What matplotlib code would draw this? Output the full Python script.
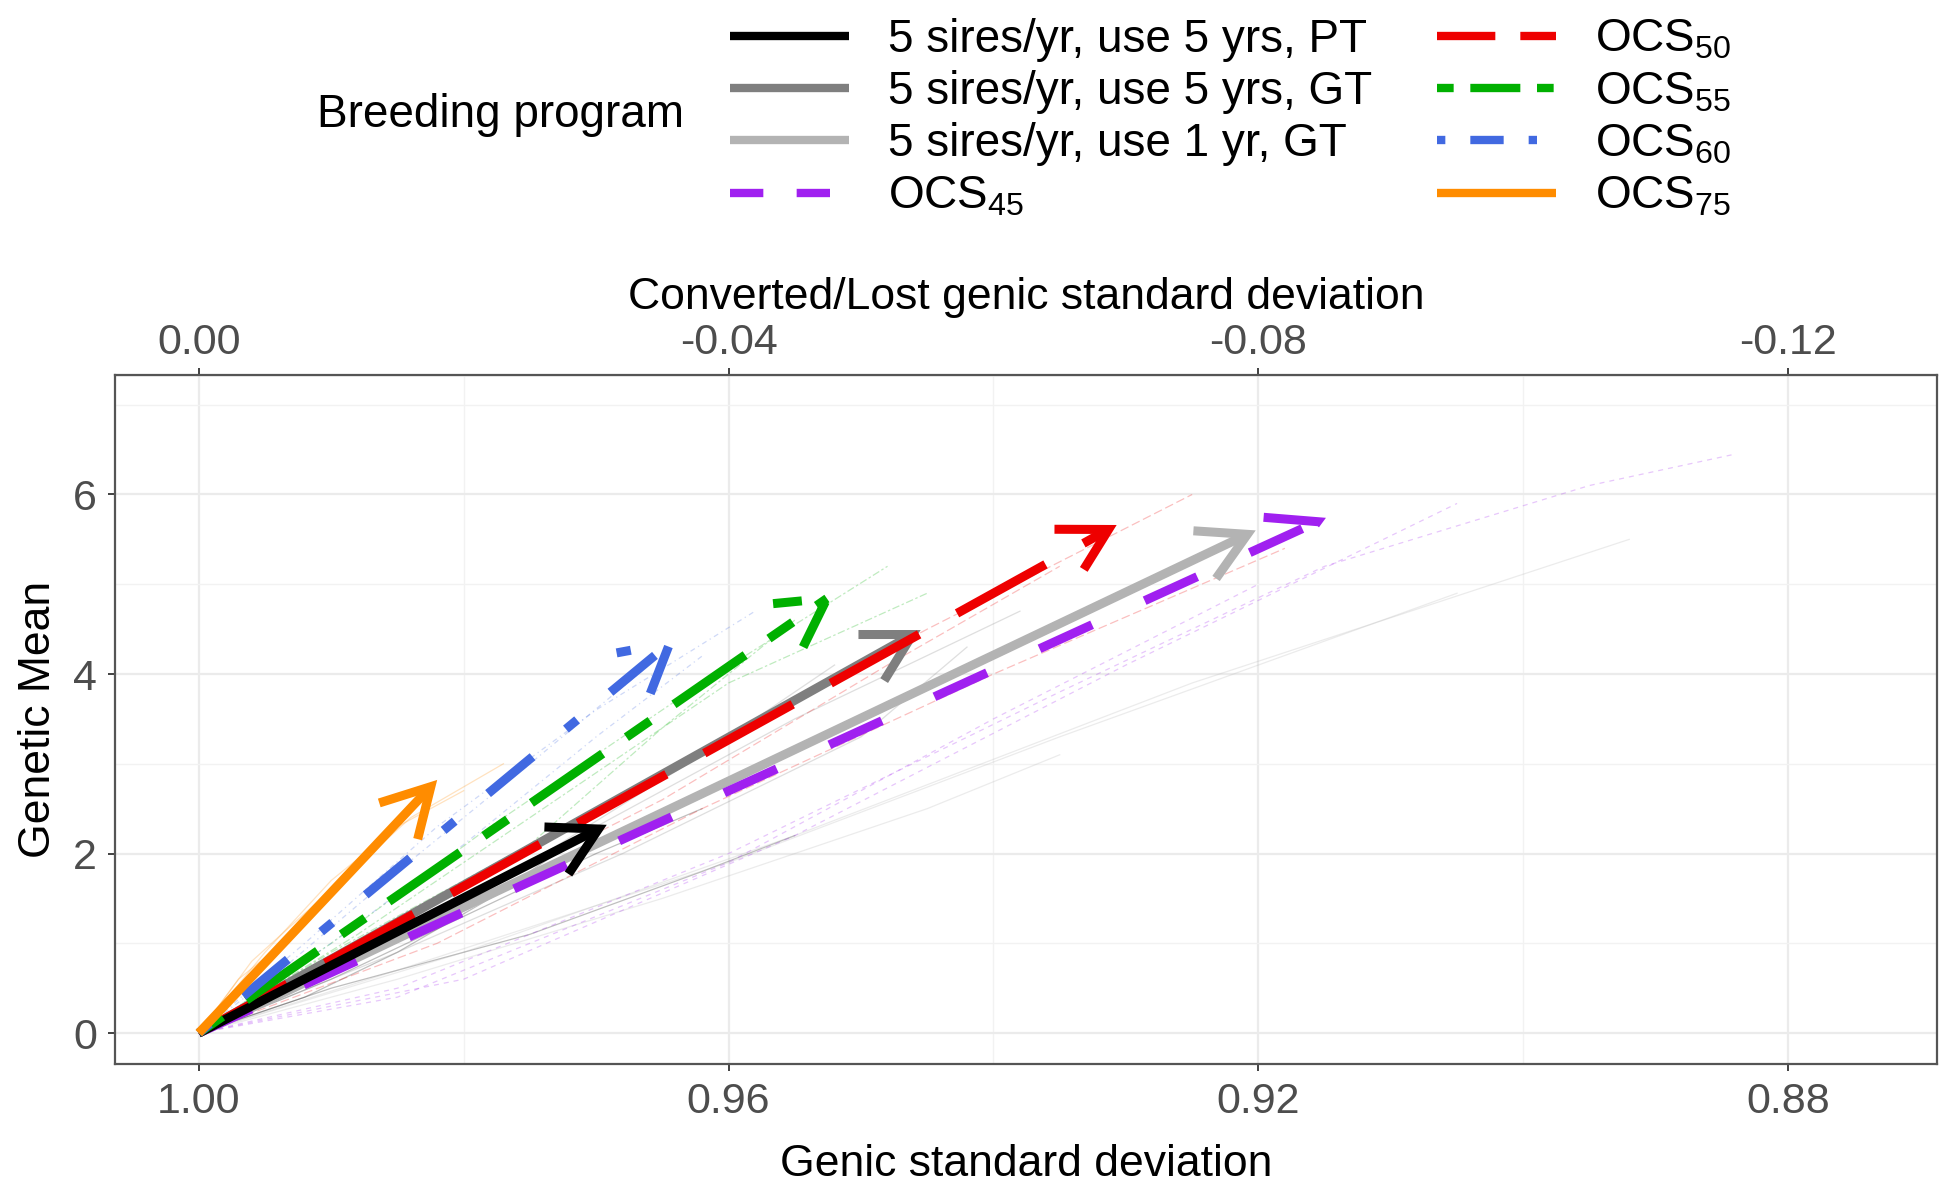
import numpy as np
import matplotlib
matplotlib.use("Agg")
import matplotlib.pyplot as plt
from matplotlib.lines import Line2D

plt.rcParams['font.family'] = ['Liberation Sans', 'DejaVu Sans']
plt.rcParams['mathtext.fontset'] = 'custom'
plt.rcParams['mathtext.rm'] = 'Liberation Sans'
plt.rcParams['mathtext.default'] = 'regular'
plt.rcParams['axes.unicode_minus'] = False

# breeding programs (order as in legend)
programs = ["5 sires/yr, use 5 yrs, PT", "5 sires/yr, use 5 yrs, GT",
            "5 sires/yr, use 1 yr, GT", "OCS$_{45}$", "OCS$_{50}$",
            "OCS$_{55}$", "OCS$_{60}$", "OCS$_{75}$"]
colors = ["#000000", "#7f7f7f", "#b3b3b3", "#a020f0", "#ee0000",
          "#00b000", "#4169e1", "#ff8c00"]
dashes = [None, None, None, (4, 4), (7, 3), (2, 2, 6, 2), (1, 3, 4, 3), None]

# mean arrows: start at (1, 0), end at the final generation
end_sd = [0.9692, 0.9455, 0.9202, 0.9149, 0.9307, 0.952, 0.9639, 0.982]
end_mean = [2.32, 4.49, 5.60, 5.74, 5.66, 4.90, 4.41, 2.82]

# a few of the faint replicate trajectories, read roughly
faint_sd = [
    [[1.0, 0.99, 0.98, 0.97, 0.962], [1.0, 0.992, 0.985, 0.978, 0.973],
     [1.0, 0.99, 0.975, 0.962, 0.955]],
    [[1.0, 0.985, 0.97, 0.955, 0.938], [1.0, 0.988, 0.975, 0.962, 0.952],
     [1.0, 0.985, 0.968, 0.95, 0.942]],
    [[1.0, 0.98, 0.955, 0.925, 0.892], [1.0, 0.985, 0.96, 0.935, 0.905],
     [1.0, 0.985, 0.965, 0.945, 0.935]],
    [[1.0, 0.985, 0.96, 0.935, 0.915, 0.895, 0.884], [1.0, 0.98, 0.955, 0.93, 0.905],
     [1.0, 0.985, 0.96, 0.94, 0.92]],
    [[1.0, 0.985, 0.965, 0.945, 0.925], [1.0, 0.982, 0.962, 0.94, 0.918],
     [1.0, 0.985, 0.965, 0.948, 0.935]],
    [[1.0, 0.99, 0.978, 0.962, 0.948], [1.0, 0.99, 0.975, 0.965, 0.955],
     [1.0, 0.988, 0.975, 0.96, 0.945]],
    [[1.0, 0.992, 0.982, 0.97, 0.958], [1.0, 0.993, 0.985, 0.975, 0.966],
     [1.0, 0.99, 0.98, 0.97, 0.962]],
    [[1.0, 0.996, 0.99, 0.984, 0.977], [1.0, 0.997, 0.992, 0.988, 0.984],
     [1.0, 0.995, 0.99, 0.985, 0.98]],
]
faint_mean = [
    [[0.0, 0.6, 1.3, 2.0, 2.5], [0.0, 0.4, 0.9, 1.5, 2.0],
     [0.0, 0.5, 1.1, 1.8, 2.2]],
    [[0.0, 1.1, 2.3, 3.5, 4.7], [0.0, 0.8, 1.9, 3.1, 4.1],
     [0.0, 0.9, 2.0, 3.3, 4.3]],
    [[0.0, 0.9, 2.2, 3.9, 5.5], [0.0, 0.7, 1.9, 3.3, 4.9],
     [0.0, 0.6, 1.5, 2.5, 3.1]],
    [[0.0, 0.5, 2.0, 3.8, 5.2, 6.1, 6.45], [0.0, 0.6, 2.2, 4.1, 5.9],
     [0.0, 0.4, 1.9, 3.5, 5.0]],
    [[0.0, 1.2, 2.9, 4.5, 6.0], [0.0, 1.0, 2.5, 4.0, 5.4],
     [0.0, 1.1, 2.6, 4.1, 5.2]],
    [[0.0, 1.0, 2.3, 3.9, 5.2], [0.0, 0.9, 2.1, 3.4, 4.6],
     [0.0, 1.1, 2.4, 3.9, 4.9]],
    [[0.0, 1.0, 2.3, 3.6, 4.7], [0.0, 0.8, 1.8, 3.0, 4.1],
     [0.0, 1.0, 2.1, 3.3, 4.2]],
    [[0.0, 0.8, 1.6, 2.4, 3.0], [0.0, 0.6, 1.2, 1.9, 2.5],
     [0.0, 0.9, 1.7, 2.3, 2.7]],
]

x_major = [1.00, 0.96, 0.92, 0.88]
x_major_labels = ["1.00", "0.96", "0.92", "0.88"]
x_minor = [0.98, 0.94, 0.90]
top_labels = ["0.00", "-0.04", "-0.08", "-0.12"]
y_major = [0, 2, 4, 6]
y_minor = [1, 3, 5, 7]

fig = plt.figure(figsize=(19.47, 11.87), dpi=100)
ax = fig.add_axes([0.0591, 0.1036, 0.9358, 0.5804])

for i in range(len(programs)):
    ls = '-' if dashes[i] is None else (0, dashes[i])
    for xs, ys in zip(faint_sd[i], faint_mean[i]):
        ax.plot(xs, ys, color=colors[i], lw=0.9, alpha=0.25, linestyle=ls, zorder=2)

draw_order = [2, 1, 3, 4, 0, 5, 6, 7]
for i in draw_order:
    ls = '-' if dashes[i] is None else (0, tuple(1.6 * d for d in dashes[i]))
    ax.annotate('', xy=(end_sd[i], end_mean[i]), xytext=(1.0, 0.0),
                arrowprops=dict(arrowstyle='->,head_length=34,head_width=19',
                                mutation_scale=1, color=colors[i], lw=6.5,
                                linestyle=ls, shrinkA=0, shrinkB=0,
                                capstyle='butt', joinstyle='miter'),
                zorder=3 + draw_order.index(i))

ax.set_xlim(1.00632, 0.86876)
ax.set_ylim(-0.345, 7.33)
ax.set_xticks(x_major)
ax.set_xticklabels(x_major_labels)
ax.set_xticks(x_minor, minor=True)
ax.set_yticks(y_major)
ax.set_yticks(y_minor, minor=True)
ax.grid(True, which='major', color='#ebebeb', lw=1.6, zorder=0)
ax.grid(True, which='minor', color='#f2f2f2', lw=1.0, zorder=0)
ax.set_axisbelow(True)
ax.tick_params(which='major', length=5, width=1.3, color='#333333',
               labelsize=31, labelcolor='#4d4d4d', pad=8)
ax.tick_params(which='minor', length=0)
for s in ax.spines.values():
    s.set_color('#555555')
    s.set_linewidth(1.6)

ax.set_xlabel('Genic standard deviation', fontsize=32, labelpad=16)
ax.set_ylabel('Genetic Mean', fontsize=32, labelpad=10)

top = ax.secondary_xaxis('top', functions=(lambda v: v - 1, lambda v: v + 1))
top.set_xticks([float(t) for t in top_labels])
top.set_xticklabels(top_labels)
top.tick_params(length=5, width=1.3, color='#333333', labelsize=31,
                labelcolor='#4d4d4d', pad=4)
top.spines['top'].set_color('#555555')
top.set_xlabel('Converted/Lost genic standard deviation', fontsize=32, labelpad=10)

handles = []
for i in range(len(programs)):
    ls = '-' if dashes[i] is None else (0, dashes[i])
    handles.append(Line2D([0], [0], color=colors[i], lw=6, linestyle=ls,
                          solid_capstyle='butt', dash_capstyle='butt'))
fig.legend(handles, programs, loc='upper left', bbox_to_anchor=(0.375, 0.985),
           ncol=2, frameon=False, fontsize=33, borderpad=0, borderaxespad=0,
           handlelength=2.6, handletextpad=0.85, columnspacing=1.4,
           labelspacing=0.18)
fig.text(0.2573, 0.903, 'Breeding program', fontsize=33, ha='center', va='center')

fig.savefig('out.png', dpi=100)
